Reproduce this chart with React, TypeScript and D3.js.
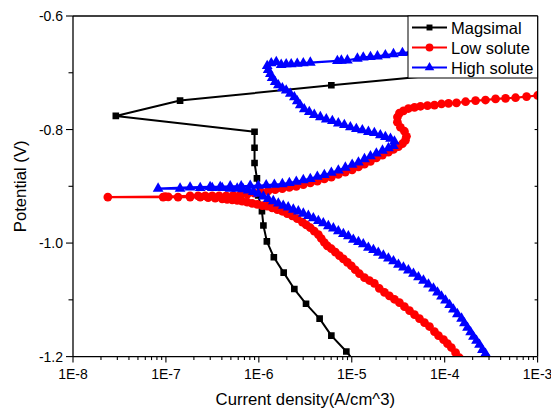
import React from 'react';
import * as d3 from 'd3';

const magsimalCurrent = [1.2e-5, 8.74e-6, 6.03e-6, 4.51e-6, 3.22e-6, 2.41e-6, 1.85e-6, 1.45e-6, 1.22e-6, 1.12e-6, 1.08e-6, 9.85e-7, 9.54e-7, 8.99e-7, 8.99e-7, 8.99e-7, 2.89e-8, 1.42e-7, 6.03e-6, 3.19e-4, 1.5e-2];
const magsimalPotential = [-1.219, -1.191, -1.163, -1.133, -1.107, -1.081, -1.052, -1.025, -0.997, -0.969, -0.944, -0.916, -0.886, -0.859, -0.832, -0.804, -0.776, -0.749, -0.722, -0.695, -0.668];

const lowSoluteCurrent = [
  1.44e-4, 1.31e-4, 1.18e-4, 1.07e-4, 9.71e-5, 8.57e-5, 7.76e-5, 6.86e-5, 6.06e-5, 5.35e-5,
  4.73e-5, 4.18e-5, 3.69e-5, 3.26e-5, 2.88e-5, 2.54e-5, 2.25e-5, 1.98e-5, 1.75e-5, 1.55e-5,
  1.37e-5, 1.21e-5, 1.09e-5, 9.90e-6, 8.97e-6, 8.12e-6, 7.35e-6, 6.66e-6, 6.03e-6, 5.46e-6,
  5.07e-6, 4.70e-6, 4.37e-6, 3.95e-6, 3.58e-6, 3.24e-6, 2.94e-6, 2.59e-6, 2.29e-6, 2.02e-6,
  1.79e-6, 1.58e-6, 1.39e-6, 1.23e-6, 1.09e-6, 9.61e-7, 8.49e-7, 7.50e-7, 6.62e-7, 5.85e-7,
  5.17e-7, 4.56e-7, 4.03e-7, 3.39e-7, 2.85e-7, 2.34e-7, 1.82e-7, 1.35e-7, 1.06e-7, 9.33e-8, 2.37e-8,
  9.80e-8, 1.82e-7, 2.22e-7, 2.65e-7, 3.15e-7, 3.74e-7, 4.45e-7, 5.30e-7, 6.30e-7, 7.50e-7,
  8.92e-7, 1.06e-6, 1.26e-6, 1.50e-6, 1.79e-6, 2.13e-6, 2.53e-6, 3.01e-6, 3.58e-6, 4.26e-6,
  5.07e-6, 6.03e-6, 7.17e-6, 8.53e-6, 1.01e-5, 1.18e-5, 1.37e-5, 1.59e-5, 1.84e-5, 2.14e-5,
  2.48e-5, 2.81e-5, 3.18e-5, 3.51e-5, 3.78e-5, 3.88e-5, 3.69e-5, 3.34e-5, 3.10e-5, 3.10e-5,
  3.26e-5, 3.60e-5, 4.07e-5, 4.73e-5, 5.49e-5, 6.53e-5, 7.76e-5, 9.24e-5, 1.10e-4, 1.34e-4,
  1.68e-4, 2.15e-4, 2.75e-4, 3.53e-4, 4.52e-4, 5.79e-4, 7.61e-4, 1.0e-3,
];
const lowSolutePotential = [
  -1.202, -1.193, -1.184, -1.177, -1.170, -1.163, -1.156, -1.147, -1.140, -1.133,
  -1.126, -1.119, -1.112, -1.105, -1.099, -1.093, -1.087, -1.080, -1.071, -1.066,
  -1.061, -1.054, -1.047, -1.040, -1.034, -1.028, -1.022, -1.016, -1.010, -1.005,
  -0.999, -0.992, -0.985, -0.979, -0.973, -0.968, -0.963, -0.957, -0.952, -0.948,
  -0.944, -0.941, -0.938, -0.935, -0.934, -0.932, -0.930, -0.928, -0.926, -0.925,
  -0.924, -0.923, -0.922, -0.921, -0.920, -0.919, -0.919, -0.919, -0.9185, -0.919, -0.919,
  -0.918, -0.917, -0.917, -0.917, -0.917, -0.917, -0.917, -0.916, -0.915, -0.914,
  -0.912, -0.910, -0.908, -0.906, -0.904, -0.902, -0.900, -0.897, -0.894, -0.891,
  -0.887, -0.884, -0.879, -0.875, -0.871, -0.866, -0.861, -0.856, -0.850, -0.845,
  -0.840, -0.835, -0.830, -0.825, -0.819, -0.812, -0.803, -0.796, -0.787, -0.778,
  -0.771, -0.767, -0.763, -0.761, -0.759, -0.758, -0.757, -0.755, -0.754, -0.753,
  -0.751, -0.749, -0.748, -0.746, -0.745, -0.744, -0.742, -0.740,
];

const highSoluteCurrent = [
  2.96e-4, 2.75e-4, 2.55e-4, 2.37e-4, 2.20e-4, 2.04e-4, 1.90e-4, 1.76e-4, 1.63e-4, 1.52e-4,
  1.37e-4, 1.24e-4, 1.13e-4, 1.02e-4, 9.24e-5, 8.37e-5, 7.57e-5, 6.69e-5, 5.91e-5, 5.22e-5,
  4.61e-5, 4.07e-5, 3.60e-5, 3.18e-5, 2.81e-5, 2.48e-5, 2.19e-5, 1.93e-5, 1.71e-5, 1.51e-5,
  1.33e-5, 1.18e-5, 1.04e-5, 9.19e-6, 8.12e-6, 7.17e-6, 6.34e-6, 5.60e-6, 4.94e-6, 4.37e-6,
  3.86e-6, 3.41e-6, 3.01e-6, 2.66e-6, 2.35e-6, 2.07e-6, 1.83e-6, 1.62e-6, 1.43e-6, 1.26e-6,
  1.12e-6, 9.85e-7, 8.71e-7, 7.69e-7, 6.79e-7, 5.85e-7, 4.92e-7, 4.03e-7, 3.15e-7, 2.34e-7,
  1.42e-7, 8.24e-8,
  1.82e-7, 2.99e-7, 3.84e-7, 4.92e-7, 6.46e-7, 8.08e-7, 9.85e-7, 1.20e-6, 1.47e-6, 1.79e-6,
  2.13e-6, 2.53e-6, 3.01e-6, 3.58e-6, 4.26e-6, 5.07e-6, 6.03e-6, 7.17e-6, 8.53e-6, 1.01e-5,
  1.18e-5, 1.37e-5, 1.59e-5, 1.84e-5, 2.14e-5, 2.48e-5, 2.81e-5, 2.88e-5, 2.61e-5, 2.30e-5,
  2.03e-5, 1.75e-5, 1.51e-5, 1.30e-5, 1.12e-5, 9.66e-6, 8.32e-6, 7.17e-6, 6.18e-6, 5.32e-6,
  4.59e-6, 3.95e-6, 3.49e-6, 3.08e-6, 2.79e-6, 2.59e-6, 2.41e-6, 2.18e-6, 1.97e-6, 1.79e-6,
  1.62e-6, 1.50e-6, 1.39e-6, 1.33e-6, 1.26e-6, 1.23e-6, 1.36e-6, 1.54e-6, 1.74e-6, 1.97e-6,
  2.23e-6, 2.59e-6, 3.01e-6, 3.58e-6, 7.00e-6, 7.73e-6, 8.97e-6, 1.15e-5, 1.33e-5, 1.59e-5,
  1.89e-5, 2.30e-5, 2.81e-5, 3.51e-5, 4.28e-5, 7.03e-5, 1.90e-4, 6.56e-4,
];
const highSolutePotential = [
  -1.204, -1.195, -1.188, -1.179, -1.172, -1.165, -1.157, -1.149, -1.141, -1.133,
  -1.125, -1.117, -1.109, -1.101, -1.094, -1.087, -1.080, -1.073, -1.066, -1.060,
  -1.054, -1.048, -1.043, -1.038, -1.032, -1.027, -1.022, -1.017, -1.012, -1.008,
  -1.002, -0.998, -0.994, -0.988, -0.984, -0.979, -0.974, -0.970, -0.965, -0.961,
  -0.956, -0.952, -0.948, -0.944, -0.941, -0.937, -0.934, -0.930, -0.926, -0.922,
  -0.918, -0.913, -0.910, -0.907, -0.905, -0.904, -0.904, -0.903, -0.903, -0.903,
  -0.904, -0.904,
  -0.902, -0.901, -0.901, -0.900, -0.900, -0.899, -0.899, -0.898, -0.897, -0.896,
  -0.894, -0.892, -0.889, -0.887, -0.883, -0.880, -0.876, -0.872, -0.867, -0.862,
  -0.858, -0.852, -0.847, -0.842, -0.837, -0.833, -0.829, -0.821, -0.816, -0.813,
  -0.810, -0.806, -0.804, -0.801, -0.799, -0.796, -0.792, -0.789, -0.785, -0.782,
  -0.778, -0.774, -0.769, -0.764, -0.757, -0.750, -0.743, -0.737, -0.731, -0.727,
  -0.722, -0.716, -0.709, -0.702, -0.695, -0.688, -0.683, -0.681, -0.686, -0.685,
  -0.685, -0.684, -0.683, -0.682, -0.679, -0.6785, -0.678, -0.675, -0.673, -0.672,
  -0.671, -0.669, -0.667, -0.665, -0.664, -0.660, -0.655, -0.649,
];

const xTickValues = [1e-8, 1e-7, 1e-6, 1e-5, 1e-4, 1e-3];
const xTickLabels = ['1E-8', '1E-7', '1E-6', '1E-5', '1E-4', '1E-3'];
const yTickValues = [-1.2, -1.0, -0.8, -0.6];
const yTickLabels = ['-1.2', '-1.0', '-0.8', '-0.6'];
const yMinorValues = [-1.1, -0.9, -0.7];
const seriesNames = ['Magsimal', 'Low solute', 'High solute'];

const W = 551;
const H = 412;
const L = 73;
const R = 537.6;
const T = 16;
const B = 356.6;
const FONT = "Arial, 'Liberation Sans', sans-serif";

export default function App() {
  const x = d3.scaleLog().domain([1e-8, 1e-3]).range([L, R]);
  const y = d3.scaleLinear().domain([-1.2, -0.6]).range([B, T]);

  const series = [
    { name: seriesNames[0], color: '#000000', I: magsimalCurrent, E: magsimalPotential, shape: d3.symbolSquare, size: 44, lw: 2 },
    { name: seriesNames[1], color: '#ff0000', I: lowSoluteCurrent, E: lowSolutePotential, shape: d3.symbolCircle, size: 60, lw: 2.2 },
    { name: seriesNames[2], color: '#0000ff', I: highSoluteCurrent, E: highSolutePotential, shape: d3.symbolTriangle, size: 50, lw: 2.2 },
  ];

  const line = d3.line<[number, number]>().x((d) => x(d[0])).y((d) => y(d[1]));

  const minorX: number[] = [];
  for (let e = -8; e < -3; e++) {
    for (let k = 2; k <= 9; k++) minorX.push(k * Math.pow(10, e));
  }
  const rightTicks = [-1.1, -1.0, -0.9, -0.8, -0.7];

  return (
    <svg width={W} height={H} style={{ position: 'fixed', left: 0, top: 0, background: '#fff' }} fontFamily={FONT}>
      <defs>
        <clipPath id="plotClip">
          <rect x={L} y={T} width={R - L} height={B - T} />
        </clipPath>
      </defs>
      <rect x={0} y={0} width={W} height={H} fill="#fff" />
      <g clipPath="url(#plotClip)">
        {series.map((s) => {
          const n = Math.min(s.I.length, s.E.length);
          const pts: [number, number][] = [];
          for (let i = 0; i < n; i++) pts.push([s.I[i], s.E[i]]);
          const sym = d3.symbol().type(s.shape).size(s.size)();
          return (
            <g key={s.name}>
              <path d={line(pts) || ''} fill="none" stroke={s.color} strokeWidth={s.lw} strokeLinejoin="round" />
              {pts.map((p, i) => (
                <path key={i} d={sym || ''} transform={`translate(${x(p[0])},${y(p[1])})`} fill={s.color} />
              ))}
            </g>
          );
        })}
      </g>
      <g stroke="#000" strokeWidth={1.3} fill="none">
        <line x1={L} y1={T} x2={L} y2={B} />
        <line x1={L} y1={B} x2={R} y2={B} />
        <line x1={R} y1={T} x2={R} y2={B} />
        <line x1={L} y1={T} x2={R} y2={T} />
      </g>
      <g stroke="#000" strokeWidth={1.1}>
        {xTickValues.map((v) => (
          <line key={'xm' + v} x1={x(v)} x2={x(v)} y1={B} y2={B + 6} />
        ))}
        {minorX.map((v, i) => (
          <line key={'xn' + i} x1={x(v)} x2={x(v)} y1={B} y2={B + 3.5} />
        ))}
        {yTickValues.map((v) => (
          <line key={'ym' + v} x1={L - 7} x2={L} y1={y(v)} y2={y(v)} />
        ))}
        {yMinorValues.map((v) => (
          <line key={'yn' + v} x1={L - 4.5} x2={L} y1={y(v)} y2={y(v)} />
        ))}
        {rightTicks.map((v) => (
          <line key={'yr' + v} x1={R - 3} x2={R} y1={y(v)} y2={y(v)} />
        ))}
      </g>
      <g fontSize={14} fill="#000">
        {xTickValues.map((v, i) => (
          <text key={'xl' + v} x={x(v)} y={B + 22} textAnchor="middle">{xTickLabels[i]}</text>
        ))}
        {yTickValues.map((v, i) => (
          <text key={'yl' + v} x={L - 10} y={y(v) + 5} textAnchor="end">{yTickLabels[i]}</text>
        ))}
      </g>
      <text x={(L + R) / 2} y={405} textAnchor="middle" fontSize={16.7} fill="#000">Current density(A/cm^3)</text>
      <text transform={`translate(26, ${(T + B) / 2}) rotate(-90)`} textAnchor="middle" fontSize={16.7} fill="#000">Potential (V)</text>
      <g>
        <rect x={408} y={T} width={R - 408} height={62} fill="#fff" stroke="#000" strokeWidth={1} />
        {series.map((s, i) => {
          const cy = 27.5 + i * 20;
          const sym = d3.symbol().type(s.shape).size(s.size * 0.8)();
          return (
            <g key={'lg' + s.name}>
              <line x1={412} x2={447} y1={cy} y2={cy} stroke={s.color} strokeWidth={1.8} />
              <path d={sym || ''} transform={`translate(429.5,${cy})`} fill={s.color} />
              <text x={451} y={cy + 6} fontSize={16.5} fill="#000">{s.name}</text>
            </g>
          );
        })}
      </g>
    </svg>
  );
}
